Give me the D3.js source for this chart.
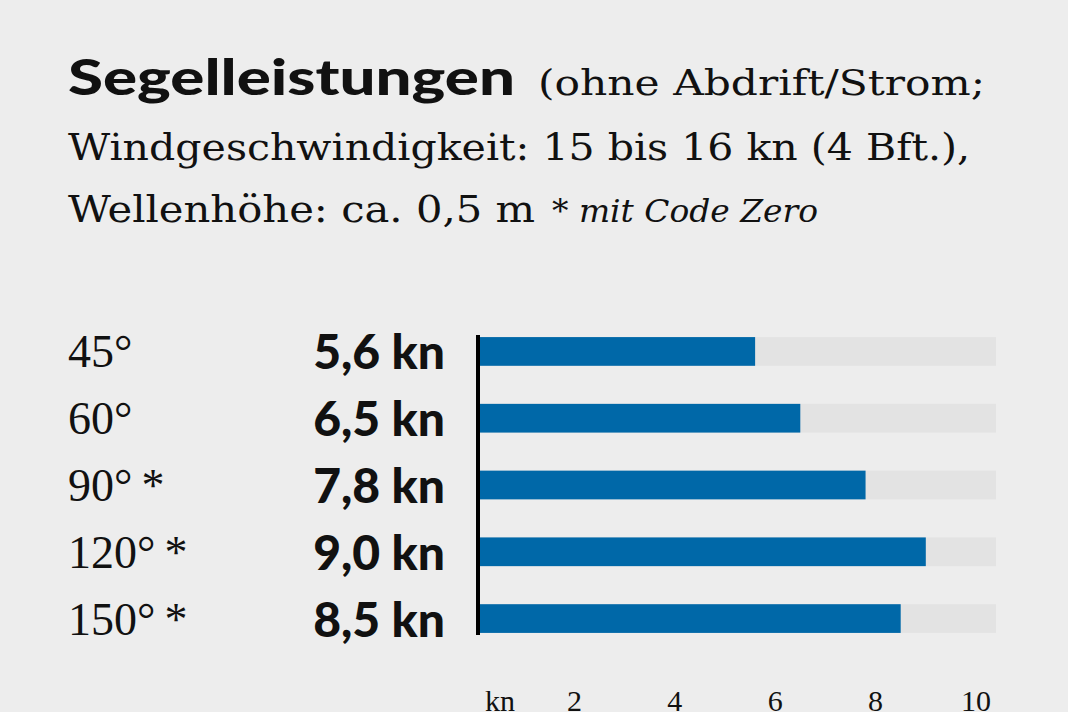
<!DOCTYPE html><html><head><meta charset="utf-8"><script src="https://cdn.jsdelivr.net/npm/d3@7"></script>
<style>body{margin:0;background:#ededed}svg{display:block}</style></head><body><svg width="1068" height="712"></svg>
<script>
const angles=["45°","60°","90°*","120°*","150°*"];
const speeds=[5.6,6.5,7.8,9.0,8.5];
const speedLabels=["5,6 kn","6,5 kn","7,8 kn","9,0 kn","8,5 kn"];
const ticks=[2,4,6,8,10];
const svg=d3.select("svg");
svg.append("rect").attr("width",1068).attr("height",712).attr("fill","#ededed");
const serif="'DejaVu Serif','Liberation Serif',serif", sans="Lato,'Open Sans',sans-serif";
svg.append("text").attr("x",68).attr("y",95).attr("font-family",sans).attr("font-weight",900).attr("font-size",50).attr("fill","#111").attr("textLength",447).attr("lengthAdjust","spacingAndGlyphs").text("Segelleistungen");
svg.append("text").attr("x",538).attr("y",95).attr("font-family",serif).attr("font-size",36).attr("fill","#111").attr("textLength",447).attr("lengthAdjust","spacingAndGlyphs").text("(ohne Abdrift/Strom;");
svg.append("text").attr("x",68).attr("y",160).attr("font-family",serif).attr("font-size",37).attr("fill","#111").attr("textLength",902).attr("lengthAdjust","spacingAndGlyphs").text("Windgeschwindigkeit: 15 bis 16 kn (4 Bft.),");
svg.append("text").attr("x",68).attr("y",222).attr("font-family",serif).attr("font-size",37).attr("fill","#111").attr("textLength",467).attr("lengthAdjust","spacingAndGlyphs").text("Wellenhöhe: ca. 0,5 m");
svg.append("text").attr("x",552).attr("y",222).attr("font-family",serif).attr("font-style","italic").attr("font-size",31).attr("fill","#111").attr("textLength",266).attr("lengthAdjust","spacingAndGlyphs").text("* mit Code Zero");
const x=d3.scaleLinear().domain([0,10]).range([474,976]);
const y=d3.scaleBand().domain(angles).range([285,685]).paddingInner(0.57).paddingOuter(0.78);
svg.selectAll(".trk").data(angles).join("rect").attr("x",478).attr("y",d=>y(d)).attr("width",996-478).attr("height",y.bandwidth()).attr("fill","#e3e3e3");
svg.selectAll(".bar").data(speeds).join("rect").attr("x",478).attr("y",(d,i)=>y(angles[i])).attr("width",d=>x(d)-478).attr("height",y.bandwidth()).attr("fill","#0068a8");
svg.append("line").attr("x1",478).attr("x2",478).attr("y1",y(angles[0])-2).attr("y2",y(angles[4])+y.bandwidth()+2).attr("stroke","#000").attr("stroke-width",4);
svg.selectAll(".ang").data(angles).join("text").attr("x",68).attr("y",d=>y(d)+y.bandwidth()/2+16).attr("font-family","'Liberation Serif',serif").attr("font-size",46).attr("fill","#111").text(d=>d.replace("*","\u2009*"));
svg.selectAll(".val").data(speedLabels).join("text").attr("x",445).attr("text-anchor","end").attr("y",(d,i)=>y(angles[i])+y.bandwidth()/2+18).attr("font-family",sans).attr("font-weight",900).attr("font-size",48).attr("fill","#111").text(d=>d);
svg.selectAll(".tk").data(ticks).join("text").attr("x",d=>x(d)).attr("y",711).attr("text-anchor","middle").attr("font-family","'Liberation Serif',serif").attr("font-size",30).attr("fill","#111").text(d=>d);
svg.append("text").attr("x",500).attr("y",711).attr("text-anchor","middle").attr("font-family","'Liberation Serif',serif").attr("font-size",30).attr("fill","#111").text("kn");
</script></body></html>
